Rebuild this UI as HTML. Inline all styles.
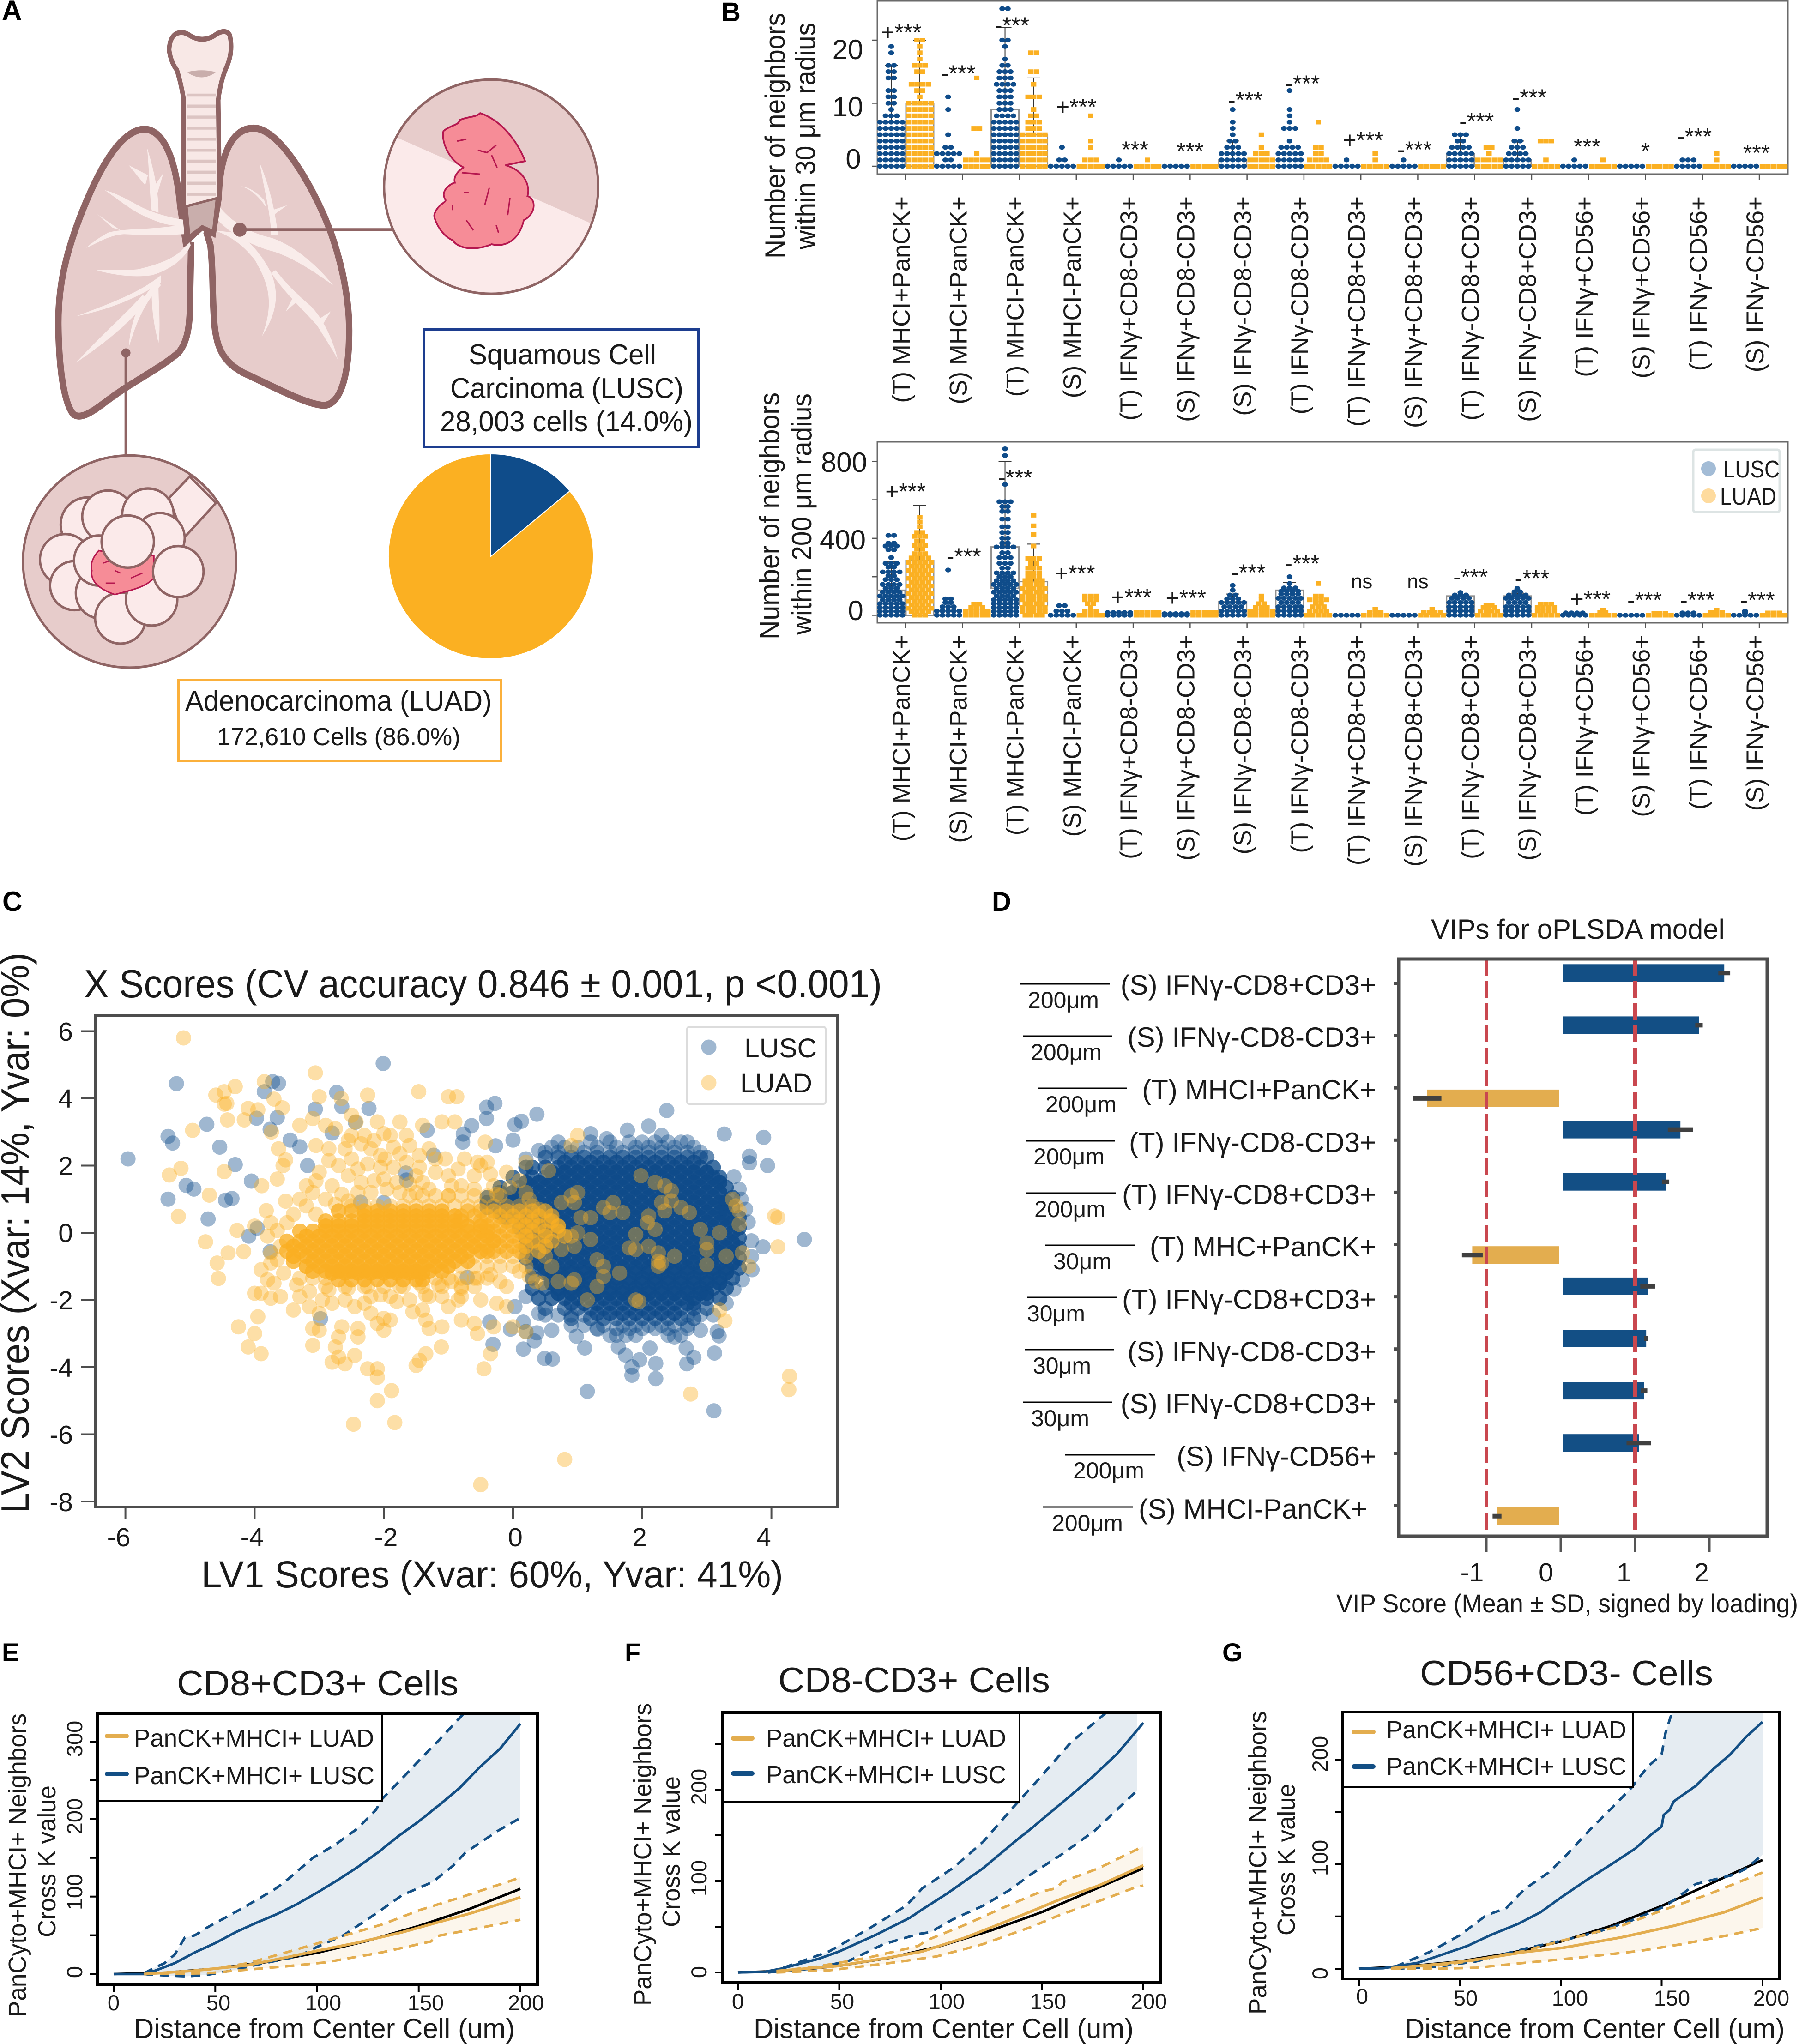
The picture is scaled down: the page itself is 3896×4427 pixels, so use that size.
<!DOCTYPE html>
<html lang="en">
<head>
<meta charset="utf-8">
<title>Lung cancer spatial neighbourhood figure</title>
<style>
html,body{margin:0;padding:0;background:#fff;}
svg{display:block;}
text{font-family:"Liberation Sans","DejaVu Sans",sans-serif;fill:#1a1a1a;}
.letter{font-weight:bold;fill:#000;}
</style>
</head>
<body>
<svg id="figure" xmlns="http://www.w3.org/2000/svg" width="3896" height="4427" viewBox="0 0 3896 4427">
<rect width="3896" height="4427" fill="#fff"/>

<!-- PANEL LETTERS -->
<text class="letter" x="4" y="43" font-size="60">A</text>
<text class="letter" x="1562" y="46" font-size="58">B</text>
<text class="letter" x="5" y="1973" font-size="60">C</text>
<text class="letter" x="2148" y="1973" font-size="58">D</text>
<text class="letter" x="4" y="3598" font-size="56">E</text>
<text class="letter" x="1353" y="3598" font-size="56">F</text>
<text class="letter" x="2647" y="3598" font-size="56">G</text>

<!-- PANEL A ILLUSTRATION -->
<g transform="scale(0.995,1.084)">
  <path d="M316 258C262 258 215 340 180 420C145 500 126 570 127 650C128 730 138 800 158 826C175 842 205 820 240 796C290 762 350 735 388 705C412 680 414 640 414 580L416 490L405 488L392 410C385 340 365 262 316 258Z" fill="#e7cccb" stroke="#8f6464" stroke-width="14"/>
  <path d="M552 256C600 256 660 340 700 420C740 500 760 590 760 660C760 740 745 808 705 810C665 808 590 770 530 745C490 725 470 700 466 640C462 590 464 540 458 490L450 466L476 395C478 320 500 256 552 256Z" fill="#e7cccb" stroke="#8f6464" stroke-width="14"/>
  <g fill="#f9ecea" stroke="none">
    <path d="M405 440C370 435 330 425 300 410C270 395 250 385 228 380C260 400 290 425 335 440C360 450 385 452 400 452Z"/>
    <path d="M330 420C325 380 325 340 320 295C335 340 345 380 345 425Z"/>
    <path d="M322 350L280 330L316 370ZM330 380L356 345L338 400Z"/>
    <path d="M400 448C340 460 270 455 235 465C215 475 200 485 188 495C215 485 235 470 270 468C320 470 360 470 400 468Z"/>
    <path d="M245 455L212 428L262 460Z"/>
    <path d="M412 480C395 510 360 525 300 538C270 541 240 538 210 540C250 550 290 555 330 550C370 540 405 515 415 490Z"/>
    <path d="M350 550C310 580 260 600 165 632C230 620 290 600 350 565Z"/>
    <path d="M345 560C310 590 285 630 280 695C295 650 310 610 350 570Z"/>
    <path d="M310 590C270 630 220 670 165 725C220 690 280 650 325 595Z"/>
    <path d="M330 580C330 620 335 650 345 685C350 650 345 610 345 575Z"/>
    <path d="M465 430C500 470 550 490 585 500C630 510 680 540 725 570C690 530 640 490 590 475C540 465 500 440 475 410Z"/>
    <path d="M465 460C500 470 530 490 555 520C580 560 600 600 570 672C600 630 610 590 590 545C570 510 545 480 510 465Z"/>
    <path d="M590 545C615 580 660 620 690 650C710 680 725 700 735 718C725 680 705 640 680 615C650 590 625 570 600 540Z"/>
    <path d="M590 470C590 430 575 380 565 325C590 380 600 430 605 470Z"/>
    <path d="M575 400C560 385 545 375 525 372C550 380 565 395 580 415Z"/>
    <path d="M592 420L625 410L595 430Z"/>
    <path d="M640 590L622 622L652 598ZM690 640L720 622L698 655Z"/>
  </g>
  <path d="M395 65Q370 65 368 100Q372 125 385 140Q395 170 400 200L400 410L408 482L440 455L465 468L478 395L475 200Q480 160 495 130Q508 100 500 70Q490 55 465 72Q440 85 415 72Q405 65 395 65Z" fill="#f8e8e6" stroke="#8f6464" stroke-width="10"/>
  <path d="M406 412L472 396L464 462L440 452L412 472Z" fill="#c9aeac" stroke="#8f6464" stroke-width="5"/>
  <path d="M408 190H470M408 212H470M408 234H470M408 256H470M408 278H470M408 300H470M408 322H470M408 344H470M408 366H470M408 388H470" stroke="#dcc4c2" stroke-width="6" fill="none"/>
  <path d="M412 145Q438 160 465 145Q438 140 412 145Z" fill="#c9aeac" stroke="#c9aeac" stroke-width="4"/>
  <path d="M522 459H860" stroke="#8f6464" stroke-width="6"/>
  <ellipse cx="522" cy="459" rx="15" ry="14" fill="#8f6464"/>
  <path d="M274 705V912" stroke="#8f6464" stroke-width="6"/>
  <ellipse cx="274" cy="705" rx="10" ry="9" fill="#8f6464"/>

  <clipPath id="clipSq"><ellipse cx="1069" cy="373" rx="233" ry="214"/></clipPath>
  <ellipse cx="1069" cy="373" rx="233" ry="214" fill="#fbeaea"/>
  <path clip-path="url(#clipSq)" d="M820 257L1320 460V120H820Z" fill="#e7cccb"/>
  <ellipse cx="1069" cy="373" rx="233" ry="214" fill="none" stroke="#8f6464" stroke-width="5"/>
  <path d="M1045 226C1090 240 1125 280 1143 322L1100 330C1140 340 1155 370 1148 392C1165 395 1170 425 1140 440C1130 480 1100 495 1070 488C1040 500 1000 500 985 480C960 470 945 440 945 430C950 410 970 405 970 400C955 380 985 365 990 365C985 350 1005 335 1010 335C975 320 960 280 965 262C980 250 1000 250 1000 240C1020 232 1035 235 1045 226Z" fill="#f68c97" stroke="#b5174f" stroke-width="3.5"/>
  <path d="M995 282L1015 278M1040 300L1060 305L1080 290M1070 310L1082 335M1005 345L1045 348M1065 375L1055 410M1110 395L1105 430M1010 385H1020M985 420V410M1015 440L1030 460M1080 450L1085 465" stroke="#b5174f" stroke-width="3" fill="none"/>

  <ellipse cx="282" cy="1122" rx="232" ry="212" fill="#e7cccb" stroke="#8f6464" stroke-width="5"/>
  <path d="M368 995L413 952L470 1005L400 1075Z" fill="#fbeaea" stroke="#8f6464" stroke-width="5"/>
  <g fill="#fbeaea" stroke="#8f6464" stroke-width="5">
    <ellipse cx="190" cy="1048" rx="58" ry="54"/>
    <ellipse cx="142" cy="1118" rx="55" ry="51"/>
    <ellipse cx="162" cy="1170" rx="53" ry="49"/>
    <ellipse cx="220" cy="1185" rx="55" ry="51"/>
    <ellipse cx="262" cy="1235" rx="55" ry="51"/>
    <ellipse cx="330" cy="1198" rx="56" ry="52"/>
    <ellipse cx="235" cy="1032" rx="56" ry="52"/>
    <ellipse cx="322" cy="1028" rx="56" ry="52"/>
    <ellipse cx="348" cy="1075" rx="54" ry="50"/>
    <ellipse cx="215" cy="1120" rx="54" ry="50"/>
  </g>
  <path d="M215 1100C240 1105 280 1110 335 1110V1155C315 1175 280 1180 250 1188C225 1180 195 1165 200 1140C195 1125 205 1110 215 1100Z" fill="#f68c97" stroke="#b5174f" stroke-width="3"/>
  <path d="M225 1125L240 1120M250 1140L262 1145M285 1155L310 1145M230 1165H250" stroke="#b5174f" stroke-width="2.5" fill="none"/>
  <ellipse cx="278" cy="1082" rx="57" ry="52" fill="#fbeaea" stroke="#8f6464" stroke-width="5"/>
  <ellipse cx="388" cy="1142" rx="55" ry="51" fill="#fbeaea" stroke="#8f6464" stroke-width="5"/>
</g>

<g id="pie"></g>

<rect x="918" y="714" width="594" height="254" fill="#fff" stroke="#1d3d8f" stroke-width="6"/>
<text x="1015" y="789" font-size="62" textLength="406" lengthAdjust="spacingAndGlyphs">Squamous Cell</text>
<text x="975" y="862" font-size="62" textLength="505" lengthAdjust="spacingAndGlyphs">Carcinoma (LUSC)</text>
<text x="953" y="934" font-size="62" textLength="547" lengthAdjust="spacingAndGlyphs">28,003 cells (14.0%)</text>
<rect x="386" y="1473" width="699" height="175" fill="#fff" stroke="#fbb03b" stroke-width="6"/>
<text x="401" y="1539" font-size="62" textLength="664" lengthAdjust="spacingAndGlyphs">Adenocarcinoma (LUAD)</text>
<text x="470" y="1614" font-size="54" textLength="527" lengthAdjust="spacingAndGlyphs">172,610 Cells (86.0%)</text>

<!-- PANEL B -->
<g id="b30"></g>
<g id="b200"></g>
<text transform="translate(1699,560) rotate(-90)" font-size="60" textLength="532" lengthAdjust="spacingAndGlyphs">Number of neighbors</text>
<text transform="translate(1765,540) rotate(-90)" font-size="60" textLength="491" lengthAdjust="spacingAndGlyphs">within 30 μm radius</text>
<text transform="translate(1687,1385) rotate(-90)" font-size="60" textLength="535" lengthAdjust="spacingAndGlyphs">Number of neighbors</text>
<text transform="translate(1757,1375) rotate(-90)" font-size="60" textLength="523" lengthAdjust="spacingAndGlyphs">within 200 μm radius</text>
<g font-size="60" text-anchor="middle">
  <text x="1836" y="128" text-anchor="middle">20</text>
  <text x="1836" y="252" text-anchor="middle">10</text>
  <text x="1848" y="365" text-anchor="middle">0</text>
  <text x="1828" y="1022" text-anchor="middle">800</text>
  <text x="1825" y="1190" text-anchor="middle">400</text>
  <text x="1853" y="1343" text-anchor="middle">0</text>
</g>
<g>
  <rect x="3667" y="974" width="187" height="135" rx="5" fill="#fff" stroke="#dde4e4" stroke-width="5"/>
  <ellipse cx="3700" cy="1015" rx="16" ry="16" fill="#a3bcd6"/>
  <ellipse cx="3700" cy="1074" rx="16" ry="16" fill="#fedb9e"/>
  <text x="3732" y="1034" font-size="52" textLength="122" lengthAdjust="spacingAndGlyphs">LUSC</text>
  <text x="3725" y="1093" font-size="52" textLength="122" lengthAdjust="spacingAndGlyphs">LUAD</text>
</g>

<!-- PANEL C -->
<text x="182" y="2160" font-size="85" textLength="1728" lengthAdjust="spacingAndGlyphs">X Scores (CV accuracy 0.846 ± 0.001, p &lt;0.001)</text>
<g id="scatter"></g>
<text x="436" y="3438" font-size="82" textLength="1260" lengthAdjust="spacingAndGlyphs">LV1 Scores (Xvar: 60%, Yvar: 41%)</text>
<text transform="translate(62,3277) rotate(-90)" font-size="85" textLength="1214" lengthAdjust="spacingAndGlyphs">LV2 Scores (Xvar: 14%, Yvar: 0%)</text>
<g font-size="57">
  <text x="257" y="3349" text-anchor="middle">-6</text>
  <text x="546" y="3349" text-anchor="middle">-4</text>
  <text x="836" y="3349" text-anchor="middle">-2</text>
  <text x="1116" y="3349" text-anchor="middle">0</text>
  <text x="1385" y="3349" text-anchor="middle">2</text>
  <text x="1654" y="3349" text-anchor="middle">4</text>
</g>
<g font-size="57">
  <text x="158" y="2254" text-anchor="end">6</text>
  <text x="158" y="2399" text-anchor="end">4</text>
  <text x="158" y="2545" text-anchor="end">2</text>
  <text x="158" y="2690" text-anchor="end">0</text>
  <text x="158" y="2836" text-anchor="end">-2</text>
  <text x="158" y="2982" text-anchor="end">-4</text>
  <text x="158" y="3127" text-anchor="end">-6</text>
  <text x="158" y="3273" text-anchor="end">-8</text>
</g>
<g>
  <rect x="1488" y="2224" width="300" height="167" rx="5" fill="#fff" fill-opacity="0.85" stroke="#dcdcdc" stroke-width="4"/>
  <circle cx="1535" cy="2268" r="16.5" fill="#0f4c8a" fill-opacity="0.4"/>
  <circle cx="1535" cy="2345" r="16.5" fill="#fbb022" fill-opacity="0.4"/>
  <text x="1612" y="2290" font-size="58" textLength="157" lengthAdjust="spacingAndGlyphs">LUSC</text>
  <text x="1603" y="2366" font-size="58" textLength="156" lengthAdjust="spacingAndGlyphs">LUAD</text>
</g>

<!-- PANEL D -->
<text x="3099" y="2033" font-size="60" textLength="636" lengthAdjust="spacingAndGlyphs">VIPs for oPLSDA model</text>
<g id="vip"></g>
<text x="2894" y="3492" font-size="56" textLength="1000" lengthAdjust="spacingAndGlyphs">VIP Score (Mean ± SD, signed by loading)</text>
<g font-size="57">
  <text x="3188" y="3425" text-anchor="middle">-1</text>
  <text x="3348" y="3425" text-anchor="middle">0</text>
  <text x="3517" y="3425" text-anchor="middle">1</text>
  <text x="3685" y="3425" text-anchor="middle">2</text>
</g>
<g font-size="60" text-anchor="end">
  <text x="2980" y="2154" text-anchor="end">(S) IFNγ-CD8+CD3+</text>
  <text x="2980" y="2267" text-anchor="end">(S) IFNγ-CD8-CD3+</text>
  <text x="2980" y="2381" text-anchor="end">(T) MHCI+PanCK+</text>
  <text x="2980" y="2495" text-anchor="end">(T) IFNγ-CD8-CD3+</text>
  <text x="2980" y="2608" text-anchor="end">(T) IFNγ-CD8+CD3+</text>
  <text x="2980" y="2721" text-anchor="end">(T) MHC+PanCK+</text>
  <text x="2980" y="2835" text-anchor="end">(T) IFNγ-CD8+CD3+</text>
  <text x="2980" y="2948" text-anchor="end">(S) IFNγ-CD8-CD3+</text>
  <text x="2980" y="3061" text-anchor="end">(S) IFNγ-CD8+CD3+</text>
  <text x="2980" y="3175" text-anchor="end">(S) IFNγ-CD56+</text>
  <text x="2961" y="3289" text-anchor="end">(S) MHCI-PanCK+</text>
</g>
<g font-size="50" text-anchor="middle">
  <path d="M2209 2131H2404M2215 2244H2409M2247 2357H2441M2221 2471H2415M2223 2584H2417M2263 2697H2457M2225 2810H2420M2219 2923H2413M2215 3037H2409M2306 3151H2501M2259 3264H2454" stroke="#000" stroke-width="3" fill="none"/>
  <text x="2303" y="2183" text-anchor="middle">200μm</text>
  <text x="2309" y="2296" text-anchor="middle">200μm</text>
  <text x="2341" y="2409" text-anchor="middle">200μm</text>
  <text x="2315" y="2522" text-anchor="middle">200μm</text>
  <text x="2317" y="2636" text-anchor="middle">200μm</text>
  <text x="2344" y="2749" text-anchor="middle">30μm</text>
  <text x="2287" y="2862" text-anchor="middle">30μm</text>
  <text x="2300" y="2975" text-anchor="middle">30μm</text>
  <text x="2296" y="3089" text-anchor="middle">30μm</text>
  <text x="2401" y="3202" text-anchor="middle">200μm</text>
  <text x="2355" y="3316" text-anchor="middle">200μm</text>
</g>

<!-- PANELS E F G -->
<g id="kE"></g>
<g id="kF"></g>
<g id="kG"></g>

<text x="383" y="3672" font-size="76" textLength="610" lengthAdjust="spacingAndGlyphs">CD8+CD3+ Cells</text>
<text x="290" y="4414" font-size="60" textLength="825" lengthAdjust="spacingAndGlyphs">Distance from Center Cell (um)</text>
<text transform="translate(56,4369) rotate(-90)" font-size="54" textLength="658" lengthAdjust="spacingAndGlyphs">PanCyto+MHCI+ Neighbors</text>
<text transform="translate(120,4196) rotate(-90)" font-size="54" textLength="329" lengthAdjust="spacingAndGlyphs">Cross K value</text>
<g font-size="47">
  <text x="246" y="4354" text-anchor="middle">0</text>
  <text x="473" y="4354" text-anchor="middle">50</text>
  <text x="700" y="4354" text-anchor="middle">100</text>
  <text x="922" y="4354" text-anchor="middle">150</text>
  <text x="1139" y="4354" text-anchor="middle">200</text>
  <text transform="translate(178,4271) rotate(-90)" text-anchor="middle">0</text>
  <text transform="translate(178,4098) rotate(-90)" text-anchor="middle">100</text>
  <text transform="translate(178,3934) rotate(-90)" text-anchor="middle">200</text>
  <text transform="translate(178,3766) rotate(-90)" text-anchor="middle">300</text>
</g>
<g>
  <path d="M232 3760H274" stroke="#e3ad4f" stroke-width="10" stroke-linecap="round"/>
  <path d="M232 3842H274" stroke="#134f85" stroke-width="10" stroke-linecap="round"/>
  <text x="290" y="3783" font-size="54" textLength="520" lengthAdjust="spacingAndGlyphs">PanCK+MHCI+ LUAD</text>
  <text x="290" y="3864" font-size="54" textLength="521" lengthAdjust="spacingAndGlyphs">PanCK+MHCI+ LUSC</text>
</g>

<text x="1685" y="3665" font-size="76" textLength="589" lengthAdjust="spacingAndGlyphs">CD8-CD3+ Cells</text>
<text x="1632" y="4414" font-size="60" textLength="823" lengthAdjust="spacingAndGlyphs">Distance from Center Cell (um)</text>
<text transform="translate(1410,4344) rotate(-90)" font-size="54" textLength="655" lengthAdjust="spacingAndGlyphs">PanCyto+MHCI+ Neighbors</text>
<text transform="translate(1472,4174) rotate(-90)" font-size="54" textLength="327" lengthAdjust="spacingAndGlyphs">Cross K value</text>
<g font-size="47">
  <text x="1598" y="4351" text-anchor="middle">0</text>
  <text x="1824" y="4351" text-anchor="middle">50</text>
  <text x="2050" y="4351" text-anchor="middle">100</text>
  <text x="2270" y="4351" text-anchor="middle">150</text>
  <text x="2488" y="4351" text-anchor="middle">200</text>
  <text transform="translate(1530,4271) rotate(-90)" text-anchor="middle">0</text>
  <text transform="translate(1530,4068) rotate(-90)" text-anchor="middle">100</text>
  <text transform="translate(1530,3870) rotate(-90)" text-anchor="middle">200</text>
</g>
<g>
  <path d="M1588 3765H1629" stroke="#e3ad4f" stroke-width="10" stroke-linecap="round"/>
  <path d="M1588 3841H1629" stroke="#134f85" stroke-width="10" stroke-linecap="round"/>
  <text x="1659" y="3783" font-size="54" textLength="520" lengthAdjust="spacingAndGlyphs">PanCK+MHCI+ LUAD</text>
  <text x="1659" y="3862" font-size="54" textLength="520" lengthAdjust="spacingAndGlyphs">PanCK+MHCI+ LUSC</text>
</g>

<text x="3075" y="3650" font-size="76" textLength="635" lengthAdjust="spacingAndGlyphs">CD56+CD3- Cells</text>
<text x="3042" y="4414" font-size="60" textLength="823" lengthAdjust="spacingAndGlyphs">Distance from Center Cell (um)</text>
<text transform="translate(2742,4363) rotate(-90)" font-size="54" textLength="657" lengthAdjust="spacingAndGlyphs">PanCyto+MHCI+ Neighbors</text>
<text transform="translate(2804,4192) rotate(-90)" font-size="54" textLength="329" lengthAdjust="spacingAndGlyphs">Cross K value</text>
<g font-size="47">
  <text x="2950" y="4340" text-anchor="middle">0</text>
  <text x="3174" y="4344" text-anchor="middle">50</text>
  <text x="3400" y="4344" text-anchor="middle">100</text>
  <text x="3621" y="4344" text-anchor="middle">150</text>
  <text x="3836" y="4344" text-anchor="middle">200</text>
  <text transform="translate(2875,4274) rotate(-90)" text-anchor="middle">0</text>
  <text transform="translate(2875,4024) rotate(-90)" text-anchor="middle">100</text>
  <text transform="translate(2875,3799) rotate(-90)" text-anchor="middle">200</text>
</g>
<g>
  <path d="M2932 3751H2974" stroke="#e3ad4f" stroke-width="10" stroke-linecap="round"/>
  <path d="M2932 3826H2974" stroke="#134f85" stroke-width="10" stroke-linecap="round"/>
  <text x="3002" y="3765" font-size="54" textLength="520" lengthAdjust="spacingAndGlyphs">PanCK+MHCI+ LUAD</text>
  <text x="3002" y="3844" font-size="54" textLength="520" lengthAdjust="spacingAndGlyphs">PanCK+MHCI+ LUSC</text>
</g>
</svg>

<script>
/* ========== PIE DATA ========== */
const pieValues = [14, 86];
const pieColors = ['#0f4c8a', '#fbb022'];

/* ========== PANEL B DATA: [value, count] rows per group ========== */
const categories = ['(T) MHCI+PanCK+','(S) MHCI+PanCK+','(T) MHCI-PanCK+','(S) MHCI-PanCK+','(T) IFNγ+CD8-CD3+','(S) IFNγ+CD8-CD3+','(S) IFNγ-CD8-CD3+','(T) IFNγ-CD8-CD3+','(T) IFNγ+CD8+CD3+','(S) IFNγ+CD8+CD3+','(T) IFNγ-CD8+CD3+','(S) IFNγ-CD8+CD3+','(T) IFNγ+CD56+','(S) IFNγ+CD56+','(T) IFNγ-CD56+','(S) IFNγ-CD56+'];
const swarm30Lusc = [
 [[0,5],[1,5],[2,5],[3,5],[4,5],[5,5],[6,5],[7,5],[8,3],[9,1],[10,2],[11,2],[12,2],[14,2],[15,2],[16,2],[18,1],[19,1]],
 [[0,5],[1,2],[2,5],[3,2],[5,1],[9,1],[11,1]],
 [[0,5],[1,5],[2,5],[3,5],[4,5],[5,5],[6,5],[7,5],[8,4],[9,3],[10,3],[11,3],[12,3],[13,4],[14,3],[15,3],[16,2],[17,1],[19,1],[20,2],[25,2]],
 [[0,5],[1,2],[3,1]],
 [[0,5],[1,1]],
 [[0,5]],
 [[0,5],[1,5],[2,5],[3,3],[4,2],[5,1],[6,1],[7,1],[9,1]],
 [[0,5],[1,5],[2,5],[3,4],[4,1],[6,3],[7,1],[8,1],[9,1],[12,1]],
 [[0,5],[1,1]],
 [[0,5],[1,1]],
 [[0,5],[1,5],[2,5],[3,4],[4,2],[5,3]],
 [[0,5],[1,5],[2,4],[3,3],[4,2],[6,1],[9,1]],
 [[0,5],[1,1]],
 [[0,5]],
 [[0,5],[1,3]],
 [[0,5]]
];
const swarm30Luad = [
 [[0,5],[1,5],[2,5],[3,5],[4,5],[5,5],[6,5],[7,5],[8,5],[9,5],[10,5],[11,1],[12,2],[13,4],[15,2],[16,3],[17,1],[18,1],[19,1],[20,2]],
 [[0,5],[1,5],[2,1],[6,2],[14,1]],
 [[0,5],[1,5],[2,5],[3,5],[4,5],[5,5],[6,3],[7,3],[8,2],[9,1],[11,3],[13,1],[15,2],[18,2]],
 [[0,5],[1,3],[3,1],[4,1],[8,1]],
 [[0,5],[1,1]],
 [[0,5]],
 [[0,5],[1,5],[2,3],[3,1],[5,1]],
 [[0,5],[1,4],[2,2],[3,2],[7,1]],
 [[0,5],[1,1],[2,1]],
 [[0,5]],
 [[0,5],[1,5],[2,1],[3,2]],
 [[0,5],[1,1],[4,3]],
 [[0,5],[1,1]],
 [[0,5]],
 [[0,5],[1,1],[2,1]],
 [[0,5]]
];
const swarm200Lusc = [
 [[0,5],[20,5],[40,5],[60,5],[80,4],[100,5],[120,4],[140,3],[160,4],[185,3],[205,2],[225,4],[250,2],[270,3],[300,1],[340,2],[360,3],[375,2],[415,2]],
 [[0,5],[22,5],[44,3],[66,2],[85,2],[235,1]],
 [[0,5],[20,5],[40,5],[60,5],[80,5],[100,4],[120,5],[140,4],[160,5],[180,4],[200,3],[220,4],[245,2],[270,3],[300,3],[325,2],[355,4],[375,2],[400,2],[430,2],[460,2],[500,2],[540,2],[565,2],[590,3],[680,1],[830,1],[865,1]],
 [[0,5],[22,3],[50,2]],
 [[0,5],[14,5]],
 [[0,5],[8,5]],
 [[0,5],[22,5],[44,4],[66,5],[85,3],[105,2],[130,1],[155,1]],
 [[0,5],[22,5],[44,5],[66,4],[88,5],[110,4],[125,4],[142,3],[165,1],[200,1]],
 [[0,5]],
 [[0,5]],
 [[0,5],[22,5],[44,5],[66,5],[88,4],[105,3],[118,1]],
 [[0,5],[22,5],[44,5],[66,4],[88,5],[105,4],[122,2],[140,1]],
 [[0,5],[12,4]],
 [[0,5]],
 [[0,5],[12,3]],
 [[0,5],[12,1],[22,1]]
];
const swarm200Luad = [
 [[0,3],[18,4],[36,5],[54,4],[72,5],[92,4],[112,5],[132,4],[152,5],[172,4],[192,5],[212,4],[232,5],[255,4],[275,5],[298,4],[320,3],[345,2],[362,3],[385,2],[410,3],[430,2],[460,1],[485,1],[510,1]],
 [[0,5],[22,5],[40,3],[58,2]],
 [[0,4],[20,5],[40,5],[60,4],[80,5],[100,5],[120,4],[140,5],[160,4],[180,4],[200,3],[220,3],[245,3],[270,2],[295,3],[360,1],[420,1],[465,1],[520,1]],
 [[0,5],[22,3],[42,1],[60,2],[80,3],[100,3]],
 [[0,5],[14,5]],
 [[0,5],[14,5]],
 [[0,5],[22,5],[40,3],[60,2],[80,1],[100,1]],
 [[0,5],[22,4],[44,3],[62,2],[80,4],[100,2],[165,1]],
 [[0,5],[14,3],[30,1]],
 [[0,5],[14,4],[30,1]],
 [[0,5],[22,4],[40,3],[52,2]],
 [[0,5],[22,4],[40,4],[58,3]],
 [[0,5],[14,2],[26,1]],
 [[0,5],[10,3]],
 [[0,5],[14,3],[26,1]],
 [[0,5],[12,3]]
];
const box30Rows = [[0,0,0,7,16],[0,1,0,10,20],[2,0,0,9,22],[2,1,0,5,14],[6,0,0,1,4],[10,0,0,2,5],[11,0,0,1,4]];
const box200Rows = [[0,0,0,130,280],[0,1,0,285,570],[2,0,140,355,800],[2,1,50,175,370],[6,0,0,70,110],[7,0,0,130,170],[10,0,0,100,100],[11,0,0,100,115]];
const annot30Text = ['+***','-***','-***','+***','***','***','-***','-***','+***','-***','-***','-***','***','*','-***','***'];
const annot30Value = [22,15.5,23.1,10.2,3.4,3.2,11.3,13.9,4.9,3.4,7.9,11.7,3.9,3.2,5.5,2.9];
const annot200Text = ['+***','-***','-***','+***','+***','+***','-***','-***','ns','ns','-***','-***','+***','-***','-***','-***'];
const annot200Value = [668,331,740,242,119,115,247,294,168,168,224,217,109,104,104,104];
const b30YTicks = [0,10,20];
const b200YTicks = [0,200,400,600,800];

/* ========== PANEL C DATA (LV1, LV2 scores) ========== */
const scatterXTicks = [-6,-4,-2,0,2,4];
const scatterYTicks = [6,4,2,0,-2,-4,-6,-8];
const luscSparse = [[-5.96,2.2],[-5.21,4.44],[-5.34,2.87],[-5.27,2.67],[-4.74,3.23],[-4.54,2.55],[-4.3,2.03],[-5.06,1.41],[-4.94,1.3],[-5.34,1],[-4.72,.41],[-4.45,.97],[-4.35,1.02],[-4.05,1.54],[-4.09,-.1],[-3.96,.14],[-3.85,4.2],[-3.72,4.5],[-3.63,4.45],[-3.97,3.41],[-3.65,3.43],[-3.76,3.08],[-3.45,2.76],[-3.3,2.56],[-3.18,2],[-3.06,3.68],[-2.73,4.18],[-2.65,3.76],[-2.23,3.7],[-2.44,3.29],[-2.8,2.97],[-2.01,5.04],[-1.33,3.05],[-1.23,2.31],[-1.66,1.78],[-1.65,1.57],[-2.36,.91],[-2,.9],[-.41,3.74],[-.28,3.85],[-.41,3.4],[.37,3.53],[.03,3.22],[.13,3.32],[-.64,3.19],[-.77,2.94],[-.78,2.7],[-.27,2.59],[0,2.76],[2.38,3.64],[1.77,3.05],[2.1,3.18],[3.27,2.94],[3.88,2.84],[3.66,2.28],[3.66,2.08],[3.94,2],[3.42,1.67],[3.53,1],[3.64,.32],[3.69,-.24],[3.87,-.42],[4.51,-.2],[3.69,-.71],[3.42,-1.68],[3.16,-2.94],[3.19,-3.07],[3.12,-3.58],[3.11,-5.3],[1.15,-4.72],[2.21,-4.34],[2.21,-3.89],[1.84,-4.24],[1.84,-3.99],[1.96,-3.78],[1.74,-3.64],[1.63,-3.4],[1.11,-3.43],[2.12,-3.43],[2.69,-3.9],[2.8,-3.71],[2.68,-3.43],[.61,-3.76],[.49,-3.74],[.16,-3.46],[.33,-3.22],[-.31,-3.32],[-.36,-2.66],[-.04,-2.87],[.16,-2.66],[.2,-2.94],[.37,-2.98],[.98,-3.08],[1.31,-2.87],[.03,-2.2],[-2.98,-2.56],[-.71,-1.33],[-3.76,-.56],[3.5,1.3],[3.6,.7],[3.7,-1.1],[3.55,-1.4],[3.3,-2.1],[2.9,-2.9],[2.5,-3.1],[1.5,-3.05],[.6,-2.9],[.4,-2.4],[.2,-1.9],[.2,2.2],[.4,2.45],[.7,2.7],[1.2,2.95],[1.45,2.8],[2.3,2.9],[2.7,2.7]];
const luscDenseRows = [
 [2.7,1,[1.2,1.5,1.8,2,2.2,2.4,2.6]],
 [2.55,1,[.6,.8,1,1.3,1.6,1.9,2.1,2.3,2.5,2.8]],
 [2.4,1,[.5,.7,.9,1.1,1.3,1.5,1.7,1.9,2.1,2.3,2.5,2.7,2.9]],
 [2.25,2,[.5,.7,.9,1.1,1.3,1.5,1.7,1.9,2.1,2.3,2.5,2.7,2.9,3]],
 [2.1,3,[.8,1,1.2,1.4,1.6,1.8,2,2.2,2.4,2.6,2.8]],
 [1.95,3,[.2,.3,.5,.7,.9,1.1,1.3,1.5,1.7,1.9,2.1,2.3,2.5,2.7,2.9,3.1]],
 [1.8,5,[.6,.8,1,1.2,1.4,1.6,1.8,2,2.2,2.4,2.6,2.8,3]],
 [1.65,3,[0,.3,.5,.7,.9,1.1,1.3,1.5,1.7,1.9,2.1,2.3,2.5,2.7,2.9,3.1,3.2]],
 [1.5,5,[.2,.4,.6,.8,1,1.2,1.4,1.6,1.8,2,2.2,2.4,2.6,2.8,3,3.2]],
 [1.35,3,[-.2,.1,.3,.5,.7,.9,1.1,1.3,1.5,1.7,1.9,2.1,2.3,2.5,2.7,2.9,3.1,3.3]],
 [1.2,5,[-.2,0,.2,.4,.6,.8,1,1.2,1.4,1.6,1.8,2,2.2,2.4,2.6,2.8,3,3.2]],
 [1.05,3,[-.4,-.1,.1,.3,.5,.7,.9,1.1,1.3,1.5,1.7,1.9,2.1,2.3,2.5,2.7,2.9,3.1,3.4]],
 [.9,5,[-.4,-.2,0,.2,.4,.6,.8,1,1.2,1.4,1.6,1.8,2,2.2,2.4,2.6,2.8,3,3.2,3.3]],
 [.75,3,[-.4,-.1,.1,.3,.5,.7,.9,1.1,1.3,1.5,1.7,1.9,2.1,2.3,2.5,2.7,2.9,3.1,3.4]],
 [.6,5,[-.2,0,.2,.4,.6,.8,1,1.2,1.4,1.6,1.8,2,2.2,2.4,2.6,2.8,3,3.2,3.3]],
 [.45,3,[-.1,.1,.3,.5,.7,.9,1.1,1.3,1.5,1.7,1.9,2.1,2.3,2.5,2.7,2.9,3.1,3.3,3.5]],
 [.3,5,[.2,.4,.6,.8,1,1.2,1.4,1.6,1.8,2,2.2,2.4,2.6,2.8,3,3.2,3.4]],
 [.15,3,[.1,.3,.5,.7,.9,1.1,1.3,1.5,1.7,1.9,2.1,2.3,2.5,2.7,2.9,3.1,3.3,3.5]],
 [0,5,[.4,.6,.8,1,1.2,1.4,1.6,1.8,2,2.2,2.4,2.6,2.8,3,3.2,3.4]],
 [-.15,3,[.2,.3,.5,.7,.9,1.1,1.3,1.5,1.7,1.9,2.1,2.3,2.5,2.7,2.9,3.1,3.3,3.5]],
 [-.3,5,[.4,.6,.8,1,1.2,1.4,1.6,1.8,2,2.2,2.4,2.6,2.8,3,3.2,3.4]],
 [-.45,3,[.2,.3,.5,.7,.9,1.1,1.3,1.5,1.7,1.9,2.1,2.3,2.5,2.7,2.9,3.1,3.3,3.5]],
 [-.6,5,[.4,.6,.8,1,1.2,1.4,1.6,1.8,2,2.2,2.4,2.6,2.8,3,3.2,3.4]],
 [-.75,3,[.2,.3,.5,.7,.9,1.1,1.3,1.5,1.7,1.9,2.1,2.3,2.5,2.7,2.9,3.1,3.3,3.5]],
 [-.9,5,[.4,.6,.8,1,1.2,1.4,1.6,1.8,2,2.2,2.4,2.6,2.8,3,3.2,3.4]],
 [-1.05,3,[.3,.5,.7,.9,1.1,1.3,1.5,1.7,1.9,2.1,2.3,2.5,2.7,2.9,3.1,3.3,3.5]],
 [-1.2,5,[.5,.7,.9,1.1,1.3,1.5,1.7,1.9,2.1,2.3,2.5,2.7,2.9,3.1,3.3]],
 [-1.35,3,[.3,.6,.8,1,1.2,1.4,1.6,1.8,2,2.2,2.4,2.6,2.8,3,3.2,3.4]],
 [-1.5,5,[.6,.8,1,1.2,1.4,1.6,1.8,2,2.2,2.4,2.6,2.8,3,3.2]],
 [-1.65,3,[.3,.5,.7,.9,1.1,1.3,1.5,1.7,1.9,2.1,2.3,2.5,2.7,2.9,3.1,3.3]],
 [-1.8,5,[.7,.9,1.1,1.3,1.5,1.7,1.9,2.1,2.3,2.5,2.7,2.9,3]],
 [-1.95,3,[.4,.6,.8,1,1.2,1.4,1.6,1.8,2,2.2,2.4,2.6,2.8,3,3.2]],
 [-2.1,3,[.9,1.1,1.3,1.5,1.7,1.9,2.1,2.3,2.5,2.7,2.8]],
 [-2.25,2,[.5,.8,1,1.2,1.4,1.6,1.8,2,2.2,2.4,2.6,2.8,3]],
 [-2.4,3,[1.3,1.5,1.7,1.9,2.1,2.3,2.5]],
 [-2.45,1,[.5,.7,.9,1.1,2.7,2.9,3.1]],
 [-2.55,2,[.9,1.2,1.4,1.6,1.8,2,2.2,2.4,2.6,2.8]],
 [-2.75,1,[.9,1.1,1.4,1.7,1.9,2.1,2.3,2.5,2.7]],
 [-2.85,1,[1.3,1.6,1.8,2,2.2,2.4,2.7]],
 [-3.05,1,[1.6,1.75,1.9,2.4,2.6]]
];
const luadSparse = [[-5.1,5.8],[-3.06,4.76],[-4.3,4.35],[-4.47,4.2],[-4.6,4.1],[-4.43,3.85],[-4.47,3.83],[-4.1,3.7],[-3.95,3.66],[-3.85,4.5],[-3.7,3.98],[-3.57,3.72],[-4.42,3.36],[-4.16,3.36],[-4.96,3.05],[-3.74,3],[-3.63,2.5],[-3.52,2.17],[-3.56,2],[-3.65,1.6],[-5.14,1.92],[-5.32,1.72],[-4.47,1.82],[-4.7,1.12],[-3.89,1.4],[-3.52,.94],[-3.82,.66],[-5.18,.49],[-4.76,-.27],[-4.41,-.6],[-4.17,-.56],[-4.58,-.9],[-4.56,-1.36],[-4.27,.07],[-4,.2],[-3.65,.07],[-4,-1.8],[-3.9,-1.8],[-3.75,-1.95],[-3.6,-1.9],[-3.4,-2.3],[-3.15,-2.2],[-3,-2.4],[-2.8,-2.1],[-2.6,-2],[-2.3,-2.1],[-2.2,-2.4],[-2.1,-2.7],[-2,-2.55],[-1.9,-2.6],[-1.8,-2.05],[-1.6,-2],[-1.4,-2.3],[-1.35,-2.6],[-1.3,-2.85],[-1.1,-2.8],[-1,-2.2],[-.85,-2],[-.8,-2.6],[-.6,-2.7],[-.55,-3],[-.35,-3.6],[-.45,-4.05],[-1.11,-3.4],[-1.35,-3.6],[-1.45,-3.8],[-1.5,-3.95],[-2,-2.9],[-2.4,-3.1],[-2.4,-2.85],[-2.65,-2.8],[-2.7,-3.1],[-2.75,-3.4],[-2.7,-3.7],[-2.8,-3.85],[-2.6,-3.9],[-2.45,-3.65],[-2.25,-4.05],[-2.1,-4.05],[-2.1,-4.3],[-1.88,-4.7],[-2.1,-5],[-1.83,-5.65],[-2.47,-5.7],[-3,-2.9],[-3.1,-2.85],[-3.1,-3.35],[-3.95,-2.5],[-4.25,-2.8],[-4,-3],[-3.9,-3.6],[-4.1,-3.4],[-3.7,-1.5],[-3.8,-1.4],[-3.9,-1.1],[-3.75,-.9],[-3.6,-.4],[-3.8,-.1],[-3,4.05],[-2.66,4],[-2.25,4.1],[-1.46,4.2],[-1,4.05],[-.87,4.05],[-3.1,3.4],[-3.3,3.2],[-2.9,3.2],[-2.5,3.5],[-2.43,3.3],[-2.1,3.3],[-1.75,3.3],[-1.4,3.2],[-1.1,3.3],[-.9,3.3],[-2.5,2.9],[-2.3,2.9],[-2,2.95],[-1.9,2.9],[-1.65,2.9],[-1.3,2.5],[-1.45,2.3],[-1.2,2.2],[-2.6,2.5],[-2.85,2.5],[-3.05,2.6],[-2.2,2.5],[-2.05,2.3],[-1.98,2.2],[-2.7,2],[-2.5,2.2],[-2.4,1.9],[-2.55,1.7],[-2.35,1.5],[-2,1.6],[-1.8,1.5],[-1.5,1.7],[-1.2,1.8],[-1,1.7],[-.75,2.2],[-.5,2],[-.55,2.1],[-.4,2.1],[-.43,2.7],[-3,1.8],[-3.2,1.4],[-3.1,1.2],[-3.3,1],[-2.8,1.4],[-2.9,1],[-2.4,1.2],[-2.2,1.2],[-1.5,1.2],[-1.3,1.3],[-1,1.1],[-.8,1.4],[-.6,1.3],[-.6,1.7],[-.3,1.4],[-.1,1.8],[.2,2.1],[1,2.9],[.9,2.6],[.55,1.85],[.2,1.2],[.25,1],[.4,.7],[.55,.35],[.7,.2],[.75,.9],[.9,1.1],[1,1.2],[.95,.9],[1.05,.45],[1.2,.45],[1.4,.75],[1.55,.9],[1.5,.6],[1.7,.6],[1.98,1.7],[2.2,1.5],[2.35,1.4],[2.45,1.25],[2.3,.9],[2.35,.65],[2.45,.95],[2.6,.75],[2.73,.6],[2.08,.3],[2.1,.5],[2.2,.1],[1.9,-.05],[1.8,-.45],[1.9,-.5],[2.1,-.4],[2.25,-.6],[2.25,-1],[2.3,-.9],[2.25,-.85],[2.5,-.7],[2.9,.1],[3,-.5],[3,-.95],[3,-.3],[3.2,0],[3.3,-.7],[3.4,1],[3.45,.8],[3.5,.65],[3.5,.25],[3.55,-.6],[3.65,-1],[4.05,.5],[4.1,.45],[4.1,-.42],[3.2,-2.3],[3.28,-2.62],[2.75,-4.8],[4.28,-4.27],[4.27,-4.67],[1.9,-2],[1.95,-2.05],[1.15,-2],[.9,-1.5],[.95,-1.4],[.7,-1.45],[.45,-1.5],[.35,-1.45],[.6,-1],[.75,-.5],[.95,-.4],[.9,-.1],[1,0],[1.2,-.2],[1.3,-.8],[1.4,-1],[1.4,-1.3],[1.3,-1.6],[1.65,-1.2],[.2,-.1],[.3,.2],[.4,-.3],[.05,.3],[.15,-.6],[.8,-6.75],[-.5,-7.5],[0,-2.8],[.2,-2.95],[-.3,-2.8],[-.1,-1.6],[-.1,-2.2],[-.25,-2.1],[-.5,-2],
 [-2.75,3.1],[-2.55,2.75],[-2.35,2.65],[-2.15,2.75],[-1.85,2.55],[-1.75,2.35],[-1.6,2.6],[-2.85,2.15],[-2.25,2.05],[-2.05,1.95],[-1.85,1.95],[-1.65,2.1],[-1.45,1.95],[-1.05,2.2],[-.85,1.9],[-.35,1.75],[-3.05,1.55],[-2.65,1.15],[-2.55,.95],[-2.75,.85],[-2.15,1.55],[-1.95,1.3],[-1.75,1.2],[-1.6,1.45],[-1.4,1.5],[-.95,1.4],[-.25,1.15],[-.05,1.35],[.1,1.55],[-3.2,.8],[-3.4,.55],[-3.05,.55],[-3.75,.3],[-3.5,.3],
 [-3.65,-.8],[-3.75,-.6],[-3.55,-1.2],[-3.35,-1.55],[-3.15,-1.75],[-2.85,-1.7],[-2.55,-1.65],[-2.25,-1.6],[-2.05,-1.85],[-1.75,-1.6],[-1.45,-1.5],[-1.35,-1.85],[-1.15,-1.55],[-.95,-1.45],[-.8,-1.65],[-.55,-1.35],[-.35,-1.25],[-.2,-1.45],[.1,-1.15],[.25,-1.3],[-3.3,-1.9],[-2.95,-2],[-2.45,-2.2],[-1.55,-2.35]];
const luadDenseRows = [
 [.65,3,[-2.7,-2.5,-2.3,-2.1,-1.9,-1.7,-1.5,-1.3,-1.1]],
 [.5,4,[-2.3,-2.1,-1.9,-1.7,-1.5,-1.3,-1.1,-.9]],
 [.35,3,[-2.9,-2.7,-2.5,-2.3,-2.1,-1.9,-1.7,-1.5,-1.3,-1.1,-.9,-.8]],
 [.2,4,[-2.9,-2.7,-2.5,-2.3,-2.1,-1.9,-1.7,-1.5,-1.3,-1.1,-.9,-.7,-.5]],
 [.05,3,[-3.3,-3.1,-2.9,-2.7,-2.5,-2.3,-2.1,-1.9,-1.7,-1.5,-1.3,-1.1,-.9,-.7,-.5,-.4]],
 [-.1,4,[-3.2,-3,-2.8,-2.6,-2.4,-2.2,-2,-1.8,-1.6,-1.4,-1.2,-1,-.8,-.6,-.4]],
 [-.25,3,[-3.5,-3.3,-3.1,-2.9,-2.7,-2.5,-2.3,-2.1,-1.9,-1.7,-1.5,-1.3,-1.1,-.9,-.7,-.5,-.3]],
 [-.4,4,[-3.4,-3.2,-3,-2.8,-2.6,-2.4,-2.2,-2,-1.8,-1.6,-1.4,-1.2,-1,-.8,-.6]],
 [-.55,3,[-3.5,-3.3,-3.1,-2.9,-2.7,-2.5,-2.3,-2.1,-1.9,-1.7,-1.5,-1.3,-1.1,-.9,-.7,-.5,-.4]],
 [-.7,4,[-3.4,-3.2,-3,-2.8,-2.6,-2.4,-2.2,-2,-1.8,-1.6,-1.4,-1.2,-1,-.8]],
 [-.85,3,[-3.4,-3.1,-2.9,-2.7,-2.5,-2.3,-2.1,-1.9,-1.7,-1.5,-1.3,-1.1,-.9,-.7]],
 [-1,4,[-3.2,-3,-2.8,-2.6,-2.4,-2.2,-2,-1.8,-1.6,-1.4,-1.2,-1]],
 [-1.15,3,[-3.1,-2.9,-2.7,-2.5,-2.3,-2.1,-1.9,-1.7,-1.5,-1.3,-1.1]],
 [-1.2,4,[-2.8,-2.6,-2.4,-2.2,-2,-1.8,-1.6,-1.4]],
 [-1.4,3,[-2.7,-2.5,-2.3,-2.1,-1.9,-1.7,-1.5,-1.4]],
 [1.1,1,[-1.6,-1.4,-1.2,-1,-.8,-.6,-.4,-.2]],
 [.8,1,[-2.5,-2.3,-2.1,-1.9,-1.7,-1.5,-1.3,-1.1,-.9,-.7,-.5,-.3,-.1,.1,.3]],
 [.65,2,[-.7,-.5,-.3,-.1,.1,.3,.5]],
 [.5,2,[-.8,-.6,-.4,-.2,0,.2,.4,.6]],
 [.35,2,[-.5,-.3,-.1,.1,.3,.6]],
 [.2,2,[-.4,-.2,0,.2,.4,.7]],
 [.05,2,[-.3,-.1,.1,.3,.5,.7]],
 [-.1,2,[-.2,0,.2,.5,.8]],
 [-.25,2,[-.3,-.1,.1,.3,.6]],
 [-.4,2,[-.4,-.2,0,.2,.5]],
 [-.55,2,[-.3,-.1,.1,.4]],
 [-.7,1,[-.6,-.4,-.2,0,.2,.5]],
 [-1,1,[-.8,-.6,-.4,-.2,0,.2]],
 [-1.35,1,[-3.3,-3.1,-2.9,-1.2,-1,-.8,-.6,-.4]],
 [-1.6,1,[-2.9,-2.6,-2.3,-2,-1.7,-1.4,-1.1,-.8,-.6]],
 [-1.9,1,[-2.2,-1.9,-1.3,-1.1,-.8]]
];

/* ========== PANEL D DATA ========== */
const vipValues = [2.2,1.86,-1.795,1.61,1.41,-1.19,1.17,1.15,1.12,1.05,-.857];
const vipSd = [.08,.05,.19,.17,.05,.14,.1,.03,.045,.165,.06];
const vipXTicks = [-1,0,1,2];
const vipThresholds = [-1,1];

/* ========== PANELS E/F/G DATA: [radius um, K value] ========== */
const kXTicks = [0,50,100,150,200];
const eYTicks = [0,50,100,150,200,250,300];
const fYTicks = [0,50,100,150,200,250];
const gYTicks = [0,50,100,150,200];

const eLuscMean = [[0,0],[15,0],[20,4],[25,9],[30,14],[40,28],[50,40],[60,54],[70,66],[80,77],[90,90],[100,105],[110,121],[120,138],[130,157],[140,178],[150,197],[160,218],[170,240],[180,267],[190,291],[200,323]];
const eLuscUpper = [[15,1],[20,8],[25,14],[30,25],[35,47],[40,50],[46,60],[62,83],[79,109],[86,123],[98,150],[109,167],[120,188],[129,212],[132,226],[142,253],[151,278],[160,302],[171,333],[200,420]];
const eLuscLower = [[15,0],[19,-1],[36,-3],[46,-1],[57,4],[72,13],[91,23],[100,35],[113,50],[129,78],[142,102],[157,119],[167,140],[173,157],[189,185],[199,200],[200,201]];
const eLuadMean = [[15,0],[38,4],[65,11],[84,21],[100,30],[119,40],[142,54],[157,65],[175,78],[200,99]];
const eLuadUpper = [[15,0],[46,5.5],[66,14],[85,28],[110,47],[132,64],[151,83],[170,98.5],[196,121],[200,125]];
const eLuadLower = [[15,0],[46,1],[65,5.5],[85,10],[104,15],[132,28],[156,42],[159,49],[179,59],[200,70]];
const eCsr = [[0,0],[25,1.7],[50,7],[75,15.5],[100,27.5],[125,43],[150,62],[175,84],[200,110]];

const fLuscMean = [[0,0],[13,.6],[21,4],[40,15],[50,23],[68,41],[85,60],[91,69],[103,86],[121,114],[136,142],[145,158],[159,184],[174,212],[187,239],[200,273]];
const fLuscUpper = [[15,1],[21,4],[30,11],[45,23],[64,47],[83,73],[91,92],[106,114],[121,143],[136,181],[149,213],[164,251],[181,283],[197,315]];
const fLuscLower = [[15,0],[19,1],[38,4.4],[55,13],[72,31],[89,42],[95,44],[106,58],[121,73],[134,90],[145,108],[159,128],[176,155],[197,199]];
const fLuadMean = [[19,1.5],[49,7],[74,16],[91,23],[112,38],[127,51],[145,67],[159,80],[178,95],[200,117]];
const fLuadUpper = [[19,1.5],[38,6],[64,16],[89,29],[93,35],[112,52],[130,70],[149,88],[157,92],[160,99],[178,114],[200,138]];
const fLuadLower = [[19,0],[45,2.3],[74,10],[98,17.5],[121,31],[145,50],[159,63],[183,82],[196,93],[200,95]];
const fCsr = [[0,0],[25,1.8],[50,7.2],[75,16],[100,29],[125,46],[150,66],[175,90],[200,114]];

const gLuscMean = [[0,0],[12,.5],[29,5.6],[39,12],[54,22],[65,32],[79,43],[90,54],[100,68],[113,85],[126,101],[137,115],[144,127],[150,136],[151,147],[154,152],[156,160],[167,175],[175,190],[184,205],[192,222],[200,236]];
const gLuscUpper = [[18,2],[35,16],[50,32],[63,51],[73,58],[82,76],[94,92],[103,109],[114,132],[126,155],[135,173],[143,193],[150,205],[152,226],[155,244],[157,277],[200,300]];
const gLuscLower = [[18,0],[39,2],[58,7],[73,14.5],[84,20],[101,27],[118,35],[135,46],[152,60],[167,81],[186,90],[192,96],[200,109]];
const gLuadMean = [[16,.5],[43,5],[61,9.5],[82,16],[101,20],[130,30],[156,41],[181,54],[200,68]];
const gLuadUpper = [[16,.5],[35,2],[54,7],[82,17],[101,27],[130,41],[152,57],[173,71],[200,92]];
const gLuadLower = [[16,0],[39,0],[58,1],[82,5.6],[111,11],[139,17],[160,23.5],[183,32],[200,39]];
const gCsr = [[0,0],[25,2.4],[50,7],[75,15],[100,26],[125,41],[150,60],[175,82],[200,104]];

/* ========== HELPERS ========== */
const NS = 'http://www.w3.org/2000/svg';
function make(tag, attrs, parent, name) {
  const el = document.createElementNS(NS, tag);
  for (const k in attrs) el.setAttribute(k, attrs[k]);
  
  
  parent.appendChild(el);
  return el;
}
const BLUE = '#0f4c8a', ORANGE = '#fbb022';

/* ========== PIE ========== */
(function () {
  const g = document.getElementById('pie');
  const cx = 1063, cy = 1205, r = 222;
  const total = pieValues.reduce((a, b) => a + b, 0);
  let ang = 0;
  pieValues.forEach((v, i) => {
    const next = ang + v / total * 2 * Math.PI;
    const x0 = cx + r * Math.sin(ang), y0 = cy - r * Math.cos(ang);
    const x1 = cx + r * Math.sin(next), y1 = cy - r * Math.cos(next);
    const large = next - ang > Math.PI ? 1 : 0;
    make('path', {d: `M${cx} ${cy}L${x0} ${y0}A${r} ${r} 0 ${large} 1 ${x1} ${y1}Z`, fill: pieColors[i], stroke: '#fff', 'stroke-width': 2}, g, 'pie-slice');
    ang = next;
  });
})();

/* ========== PANEL B ========== */
const catX = i => 1961 + i * 123.27;
const GROUP_OFFSET = 31, DOT_STEP = 12.2;
function drawSwarmChart(root, prefix, top, bottom, yScale, lusc, luad, boxes, yTicks, annotText, annotValue, labelTop, annotNudge) {
  make('rect', {x: 1900, y: top, width: 1972, height: bottom - top, fill: '#fff', stroke: '#6a6a6a', 'stroke-width': 3}, root, prefix + '-frame');
  yTicks.forEach(t => {
    make('line', {x1: 1888, x2: 1900, y1: yScale(t), y2: yScale(t), stroke: '#555', 'stroke-width': 2.5}, root, prefix + '-y-tick');
  });
  boxes.forEach(b => {
    const cx = catX(b[0]) + (b[1] ? GROUP_OFFSET : -GROUP_OFFSET);
    make('line', {x1: cx, x2: cx, y1: yScale(b[3]), y2: yScale(b[4]), stroke: '#333', 'stroke-width': 2}, root, prefix + '-whisker');
    make('line', {x1: cx - 14, x2: cx + 14, y1: yScale(b[4]), y2: yScale(b[4]), stroke: '#333', 'stroke-width': 2}, root, prefix + '-whisker-cap');
    make('rect', {x: cx - 30, y: yScale(b[3]), width: 60, height: yScale(b[2]) - yScale(b[3]), fill: 'none', stroke: '#909090', 'stroke-width': 3}, root, prefix + '-box');
  });
  categories.forEach((c, i) => {
    const x = catX(i);
    lusc[i].forEach(row => {
      for (let k = 0; k < row[1]; k++) {
        const ox = (k - (row[1] - 1) / 2) * DOT_STEP;
        make('ellipse', {cx: x - GROUP_OFFSET + ox, cy: yScale(row[0]), rx: 6.2, ry: 5.2, fill: BLUE}, root, prefix + '-lusc-point');
      }
    });
    luad[i].forEach(row => {
      for (let k = 0; k < row[1]; k++) {
        const ox = (k - (row[1] - 1) / 2) * DOT_STEP;
        make('rect', {x: x + GROUP_OFFSET + ox - 5.8, y: yScale(row[0]) - 5, width: 11.6, height: 10, fill: ORANGE}, root, prefix + '-luad-point');
      }
    });
    make('line', {x1: x, x2: x, y1: bottom, y2: bottom + 12, stroke: '#555', 'stroke-width': 2.5}, root, prefix + '-x-tick');
    const lab = make('text', {transform: `translate(${x + 9},${labelTop}) rotate(-90)`, 'text-anchor': 'end', 'font-size': 53}, root, prefix + '-category-label');
    lab.textContent = c;
    const isNs = annotText[i] === 'ns';
    const fs = isNs ? 44 : 50;
    const an = make('text', {x: x + annotNudge[i], y: yScale(annotValue[i]) + (isNs ? fs * 0.26 : fs * 0.55), 'text-anchor': 'middle', 'font-size': fs}, root, prefix + '-significance');
    an.textContent = annotText[i];
  });
}
drawSwarmChart(document.getElementById('b30'), 'b30', 2, 377, v => 360 - 13.65 * v, swarm30Lusc, swarm30Luad, box30Rows, b30YTicks, annot30Text, annot30Value, 425, [-9,-9,-16,0,4,0,-4,-3,5,-7,4,-5,-3,0,-17,-6]);
drawSwarmChart(document.getElementById('b200'), 'b200', 957, 1349, v => 1332.5 - 0.4166 * v, swarm200Lusc, swarm200Luad, box200Rows, b200YTicks, annot200Text, annot200Value, 1375, [0,3,-9,-3,-4,-9,3,-4,2,0,-9,1,4,-2,-11,-4]);

/* ========== PANEL C ========== */
(function () {
  const g = document.getElementById('scatter');
  const sx = v => 1111 + 139.9 * v, sy = v => 2670 - 72.75 * v;
  make('rect', {x: 206, y: 2199, width: 1608, height: 1065, fill: '#fff'}, g, 'scatter-plot-area');
  function dot(x, y, color, name) {
    make('circle', {cx: sx(x), cy: sy(y), r: 16.5, fill: color, 'fill-opacity': 0.4}, g, name);
  }
  luscDenseRows.forEach(row => {
    for (let n = 0; n < row[1]; n++) row[2].forEach(x => dot(x, row[0], BLUE, 'lusc-score-point'));
  });
  luscSparse.forEach(p => dot(p[0], p[1], BLUE, 'lusc-score-point'));
  luadDenseRows.forEach(row => {
    for (let n = 0; n < row[1]; n++) row[2].forEach(x => dot(x, row[0], ORANGE, 'luad-score-point'));
  });
  luadSparse.forEach(p => dot(p[0], p[1], ORANGE, 'luad-score-point'));
  make('rect', {x: 206, y: 2199, width: 1608, height: 1065, fill: 'none', stroke: '#4d4d4d', 'stroke-width': 6}, g, 'scatter-frame');
  scatterXTicks.forEach(t => {
    make('line', {x1: sx(t), x2: sx(t), y1: 3264, y2: 3290, stroke: '#4d4d4d', 'stroke-width': 4}, g, 'scatter-x-tick-mark');
  });
  scatterYTicks.forEach(t => {
    make('line', {x1: 176, x2: 206, y1: sy(t), y2: sy(t), stroke: '#4d4d4d', 'stroke-width': 4}, g, 'scatter-y-tick-mark');
  });
})();

/* ========== PANEL D ========== */
(function () {
  const g = document.getElementById('vip');
  const sx = v => 3380 + 161 * v;
  const rowY = i => 2130 + 113.1 * i;
  vipValues.forEach((v, i) => {
    const pos = v > 0;
    const cy = rowY(i) + (pos ? -22.7 : 22.7);
    const x0 = pos ? sx(0) + 4 : sx(v);
    const x1 = pos ? sx(v) : sx(0) - 3;
    make('rect', {x: x0, y: cy - 19, width: x1 - x0, height: 38, fill: pos ? '#134f85' : '#e3ad4f'}, g, 'vip-bar');
    make('line', {x1: 3019, x2: 3030, y1: rowY(i), y2: rowY(i), stroke: '#4d4d4d', 'stroke-width': 7}, g, 'vip-y-tick');
  });
  vipThresholds.forEach(t => {
    make('line', {x1: sx(t), x2: sx(t), y1: 2077, y2: 3327, stroke: '#c9474f', 'stroke-width': 8, 'stroke-dasharray': '36 12'}, g, 'vip-threshold-line');
  });
  vipValues.forEach((v, i) => {
    const cy = rowY(i) + (v > 0 ? -22.7 : 22.7);
    make('line', {x1: sx(v - vipSd[i]), x2: sx(v + vipSd[i]), y1: cy, y2: cy, stroke: '#404040', 'stroke-width': 10}, g, 'vip-error-bar');
  });
  make('rect', {x: 3029, y: 2077, width: 798, height: 1250, fill: 'none', stroke: '#4d4d4d', 'stroke-width': 7}, g, 'vip-frame');
  vipXTicks.forEach(t => {
    make('line', {x1: sx(t), x2: sx(t), y1: 3328, y2: 3362, stroke: '#555', 'stroke-width': 5}, g, 'vip-x-tick');
  });
})();

/* ========== PANELS E/F/G ========== */
function linePath(pts, sx, sy) {
  return pts.map((p, i) => (i ? 'L' : 'M') + sx(p[0]).toFixed(1) + ' ' + sy(p[1]).toFixed(1)).join('');
}
function drawK(id, prefix, f, leg, sx, sy, yTicks, s) {
  const g = document.getElementById(id);
  const clip = make('clipPath', {id: id + 'clip'}, g, prefix + '-clip');
  make('rect', {x: f.l, y: f.t, width: f.r - f.l, height: f.b - f.t}, clip, prefix + '-clip-rect');
  const body = make('g', {'clip-path': `url(#${id}clip)`}, g, prefix + '-plot-area');
  function ribbon(up, lo, color, name) {
    const d = linePath(up, sx, sy) + lo.slice().reverse().map(p => 'L' + sx(p[0]).toFixed(1) + ' ' + sy(p[1]).toFixed(1)).join('') + 'Z';
    make('path', {d: d, fill: color, 'fill-opacity': 0.11, stroke: 'none'}, body, name);
  }
  function curve(pts, color, w, dash, name) {
    const attrs = {d: linePath(pts, sx, sy), fill: 'none', stroke: color, 'stroke-width': w, 'stroke-linejoin': 'round'};
    if (dash) attrs['stroke-dasharray'] = dash;
    make('path', attrs, body, name);
  }
  ribbon(s.luscUp, s.luscLo, '#134f85', prefix + '-lusc-ribbon');
  ribbon(s.luadUp, s.luadLo, '#e3ad4f', prefix + '-luad-ribbon');
  curve(s.csr, '#000', 5.5, null, prefix + '-csr-line');
  curve(s.luscUp, '#134f85', 5.5, '20 14', prefix + '-lusc-upper');
  curve(s.luscLo, '#134f85', 5.5, '20 14', prefix + '-lusc-lower');
  curve(s.luadUp, '#e3ad4f', 5.5, '20 14', prefix + '-luad-upper');
  curve(s.luadLo, '#e3ad4f', 5.5, '20 14', prefix + '-luad-lower');
  curve(s.luscMean, '#134f85', 5.5, null, prefix + '-lusc-mean');
  curve(s.luadMean, '#e3ad4f', 6, null, prefix + '-luad-mean');
  make('rect', {x: f.l, y: f.t, width: leg.r - f.l, height: leg.b - f.t, fill: '#fff', stroke: '#000', 'stroke-width': 4}, g, prefix + '-legend-box');
  make('rect', {x: f.l, y: f.t, width: f.r - f.l, height: f.b - f.t, fill: 'none', stroke: '#000', 'stroke-width': 6}, g, prefix + '-frame');
  kXTicks.forEach(t => {
    make('line', {x1: sx(t), x2: sx(t), y1: f.b, y2: f.b + 16, stroke: '#000', 'stroke-width': 4}, g, prefix + '-x-tick-mark');
  });
  yTicks.forEach(t => {
    make('line', {x1: f.l - 16, x2: f.l, y1: sy(t), y2: sy(t), stroke: '#000', 'stroke-width': 4}, g, prefix + '-y-tick-mark');
  });
}
drawK('kE', 'e', {l: 211, r: 1164, t: 3711, b: 4298}, {r: 827, b: 3900}, v => 246 + 4.405 * v, v => 4275.5 - 1.678 * v, eYTicks,
  {luscMean: eLuscMean, luscUp: eLuscUpper, luscLo: eLuscLower, luadMean: eLuadMean, luadUp: eLuadUpper, luadLo: eLuadLower, csr: eCsr});
drawK('kF', 'f', {l: 1564, r: 2513, t: 3709, b: 4294}, {r: 2208, b: 3903}, v => 1598 + 4.39 * v, v => 4272 - 1.98 * v, fYTicks,
  {luscMean: fLuscMean, luscUp: fLuscUpper, luscLo: fLuscLower, luadMean: fLuadMean, luadUp: fLuadUpper, luadLo: fLuadLower, csr: fCsr});
drawK('kG', 'g', {l: 2908, r: 3853, t: 3708, b: 4286}, {r: 3536, b: 3870}, v => 2943 + 4.37 * v, v => 4264 - 2.265 * v, gYTicks,
  {luscMean: gLuscMean, luscUp: gLuscUpper, luscLo: gLuscLower, luadMean: gLuadMean, luadUp: gLuadUpper, luadLo: gLuadLower, csr: gCsr});
</script>
</body>
</html>
